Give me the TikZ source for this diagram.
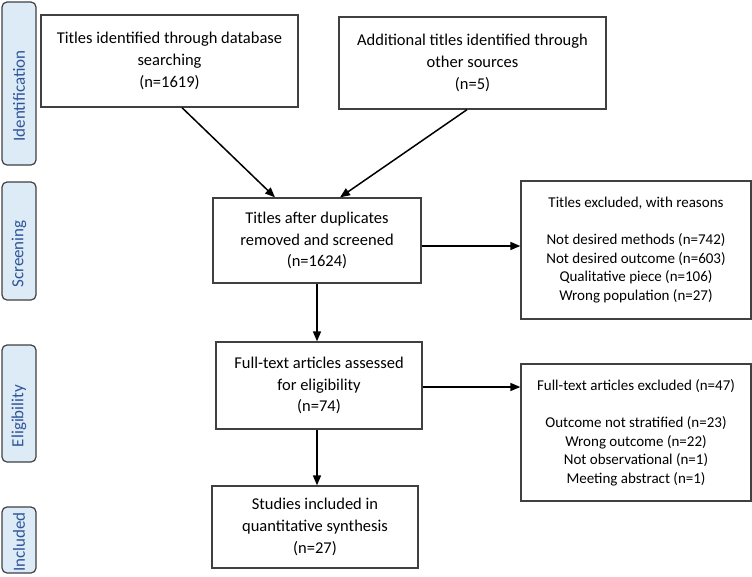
\documentclass[tikz,border=0pt]{standalone}
\usepackage{fontspec}
\setmainfont{Carlito}
\usetikzlibrary{arrows.meta}
\definecolor{lblfill}{HTML}{DDEBF7}
\definecolor{lbltext}{HTML}{2F5597}
\definecolor{boxline}{HTML}{404040}
\tikzset{
  mainbox/.style={draw=boxline, line width=1.3pt, fill=white, rectangle, align=center, inner sep=0pt,
    font=\fontsize{16.5}{21.8}\selectfont},
  exclbox/.style={draw=boxline, line width=1.3pt, fill=white, rectangle, align=center, inner sep=0pt,
    font=\fontsize{15}{18.6}\selectfont},
  stagebox/.style={draw=boxline, line width=1.2pt, fill=lblfill, rounded corners=5pt, inner sep=0pt,
    minimum width=34pt},
  stagetext/.style={rotate=90, text=lbltext, font=\fontsize{17}{18}\selectfont, inner sep=0pt},
  arr/.style={line width=1.5pt, -{Triangle[length=10pt,width=8pt]}}
}
\begin{document}
\begin{tikzpicture}[x=1pt,y=-1pt]
\useasboundingbox (0,0) rectangle (752,576);

% stage labels
\node[stagebox, minimum height=163pt] (s1) at (19,83.5) {};
\node[stagetext] (t1) at (19,96) {Identification};
\node[stagebox, minimum height=118pt] (s2) at (19,241) {};
\node[stagetext] (t2) at (19,254) {Screening};
\node[stagebox, minimum height=117pt] (s3) at (19,403.5) {};
\node[stagetext] (t3) at (19,416) {Eligibility};
\node[stagebox, minimum height=66pt] (s4) at (19,540) {};
\node[stagetext] (t4) at (19,542) {Included};

% main boxes
\node[mainbox, minimum width=257pt, minimum height=92pt] (b1) at (169.5,61)
  {Titles identified through database\\searching\\(n=1619)};
\node[mainbox, minimum width=267pt, minimum height=92pt] (b2) at (472.5,63)
  {Additional titles identified through\\other sources\\(n=5)};
\node[mainbox, minimum width=208pt, minimum height=85pt] (b3) at (317,240.5)
  {Titles after duplicates\\removed and screened\\(n=1624)};
\node[mainbox, minimum width=206pt, minimum height=87pt] (b4) at (319,385.5)
  {Full-text articles assessed\\for eligibility\\(n=74)};
\node[mainbox, minimum width=206pt, minimum height=82pt] (b5) at (315,527)
  {Studies included in\\quantitative synthesis\\(n=27)};

% exclusion boxes
\node[exclbox, minimum width=230pt, minimum height=138pt] (e1) at (636,250)
  {Titles excluded, with reasons\\[18.6pt]Not desired methods (n=742)\\Not desired outcome (n=603)\\Qualitative piece (n=106)\\Wrong population (n=27)};
\node[exclbox, minimum width=230pt, minimum height=137pt] (e2) at (636,432.5)
  {Full-text articles excluded (n=47)\\[18.6pt]Outcome not stratified (n=23)\\Wrong outcome (n=22)\\Not observational (n=1)\\Meeting abstract (n=1)};

% connectors
\draw[arr] ([xshift=12.5pt]b1.south) -- ([xshift=-42pt]b3.north);
\draw[arr] ([xshift=-5.5pt]b2.south) -- ([xshift=23pt]b3.north);
\coordinate (a1) at ([yshift=-5.5pt]b3.east);
\draw[arr] (a1) -- (a1 -| e1.west);
\draw[arr] (b3.south) -- (b3.south |- b4.north);
\coordinate (a2) at ([yshift=-1.5pt]b4.east);
\draw[arr] (a2) -- (a2 -| e2.west);
\coordinate (a3) at ([xshift=-2pt]b4.south);
\draw[arr] (a3) -- (a3 |- b5.north);
\end{tikzpicture}
\end{document}
